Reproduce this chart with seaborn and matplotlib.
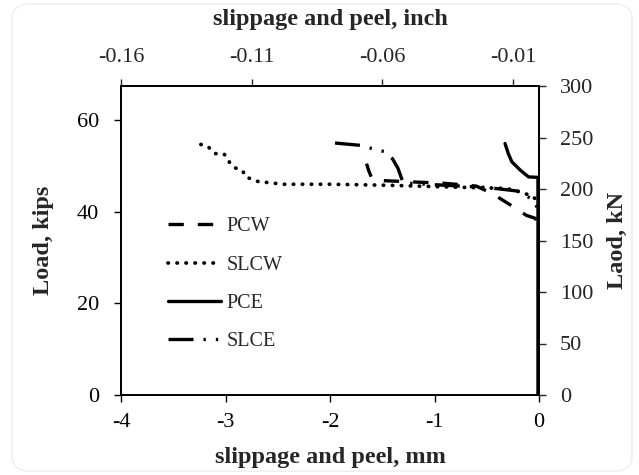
import numpy as np
import pandas as pd
import matplotlib
matplotlib.use("Agg")
import matplotlib.pyplot as plt
import seaborn as sns
from matplotlib.patches import FancyBboxPatch

# ---------------- data (mm, kips) ----------------
pcw_x = [0.0, 0.0, -0.04, -0.12, -0.20, -0.31, -0.45, -0.60, -0.90, -1.20, -1.50, -1.60, -1.63, -1.65]
pcw_y = [0.0, 37.5, 38.6, 39.2, 40.4, 42.0, 44.0, 45.6, 46.2, 46.5, 46.8, 47.3, 49.0, 50.5]

slcw_x = [0.0, 0.0, -0.038, -0.086, -0.18, -0.31, -0.69, -1.49, -2.00, -2.447, -2.606, -2.677, -2.734,
          -2.807, -2.835, -2.909, -2.957, -2.973, -3.014, -3.10, -3.132, -3.165, -3.237]
slcw_y = [0.0, 41.5, 42.9, 43.6, 44.3, 45.1, 45.3, 45.8, 46.0, 46.0, 46.4, 46.5, 47.0,
          47.6, 48.9, 49.6, 50.5, 51.4, 52.6, 52.7, 53.3, 54.2, 54.7]

pce_x = [-0.01, -0.01, 0.0, -0.10, -0.18, -0.26, -0.294, -0.325]
pce_y = [0.0, 47.0, 47.5, 47.6, 49.1, 50.9, 52.7, 54.9]

# listed from the top-left end of the curve back to the origin
slce_x = [-1.952, -1.713, -1.60, -1.474, -1.40, -1.35, -1.30, -1.00, -0.50, -0.20, -0.05, 0.0, 0.0]
slce_y = [55.0, 54.5, 53.8, 53.1, 51.5, 49.5, 46.3, 45.9, 45.3, 44.5, 42.5, 40.0, 0.0]

series_names = ["PCW", "SLCW", "PCE", "SLCE"]

# axis ticks
x_ticks = [-4, -3, -2, -1, 0]
y_ticks = [0, 20, 40, 60]
kn_ticks = [0, 50, 100, 150, 200, 250, 300]
inch_ticks = [-0.16, -0.11, -0.06, -0.01]

sns.set_style("white")
plt.rcParams['font.family'] = ['Liberation Serif', 'DejaVu Serif']

TICK_FS = 16
LABEL_FS = 17.5

fig = plt.figure(figsize=(6.39, 4.75), dpi=100)
# faint rounded frame like the reference
fig.patches.append(FancyBboxPatch((0.019, 0.008), 0.97, 0.984, boxstyle="round,pad=0,rounding_size=0.03",
                                  transform=fig.transFigure, facecolor="none",
                                  edgecolor="#f0f0f0", lw=1.2, zorder=0))
ax = fig.add_axes([121/639, (475-395)/475, 418/639, 309/475])

styles = {
    "PCW": dict(linestyle=(0, (4.6, 4.2)), lw=2.4),
    "SLCW": dict(linestyle=(0, (0.1, 2.3)), lw=2.7, dash_capstyle="round"),
    "PCE": dict(linestyle="-", lw=2.4),
    "SLCE": dict(linestyle=(0, (7.5, 3.0, 0.7, 3.0, 0.7, 3.0)), lw=2.4),
}
data = {"PCW": (pcw_x, pcw_y), "SLCW": (slcw_x, slcw_y), "PCE": (pce_x, pce_y), "SLCE": (slce_x, slce_y)}

for name in series_names:
    xs, ys = data[name]
    df = pd.DataFrame({"x": xs, "y": ys})
    sns.lineplot(data=df, x="x", y="y", sort=False, estimator=None, ax=ax, color="black",
                 label=name, **styles[name])

ax.set_xlim(-4, 0)
ax.set_ylim(0, 300/4.448)
ax.set_xticks(x_ticks)
ax.set_yticks(y_ticks)
ax.set_xticklabels([str(t) for t in x_ticks])
ax.set_xlabel("slippage and peel, mm", fontsize=LABEL_FS, fontweight="bold", labelpad=11)
ax.set_ylabel("Load, kips", fontsize=LABEL_FS, fontweight="bold", labelpad=16)
for s in ax.spines.values():
    s.set_color("black"); s.set_linewidth(1.1)
ax.tick_params(axis="both", direction="out", length=5, width=1, colors="black", labelsize=TICK_FS,
               bottom=True, left=True)
ax.tick_params(axis="y", pad=11)
ax.tick_params(axis="x", pad=8)

ax2 = ax.twinx()
ax2.set_ylim(0, 300)
ax2.set_yticks(kn_ticks)
ax2.set_ylabel("Laod, kN", fontsize=LABEL_FS, fontweight="bold", labelpad=10)
ax2.tick_params(axis="y", direction="out", length=5, width=1, labelsize=TICK_FS, right=True, pad=10)
for s in ax2.spines.values():
    s.set_color("black"); s.set_linewidth(1.1)

ax3 = ax.twiny()
ax3.set_xlim(-0.16, 0)
ax3.set_xticks(inch_ticks)
ax3.set_xticklabels([f"{t:.2f}" for t in inch_ticks])
ax3.set_xlabel("slippage and peel, inch", fontsize=LABEL_FS, fontweight="bold", labelpad=16)
ax3.tick_params(axis="x", direction="out", length=5, width=1, labelsize=TICK_FS, top=True, pad=9)
for s in ax3.spines.values():
    s.set_color("black"); s.set_linewidth(1.1)

leg = ax.legend(loc="upper left", bbox_to_anchor=(0.112, 0.575), frameon=False, fontsize=14.5,
                handlelength=2.65, handletextpad=0.25, labelspacing=0.95, borderpad=0,
                borderaxespad=0)

fig.savefig("out.png", dpi=100)
